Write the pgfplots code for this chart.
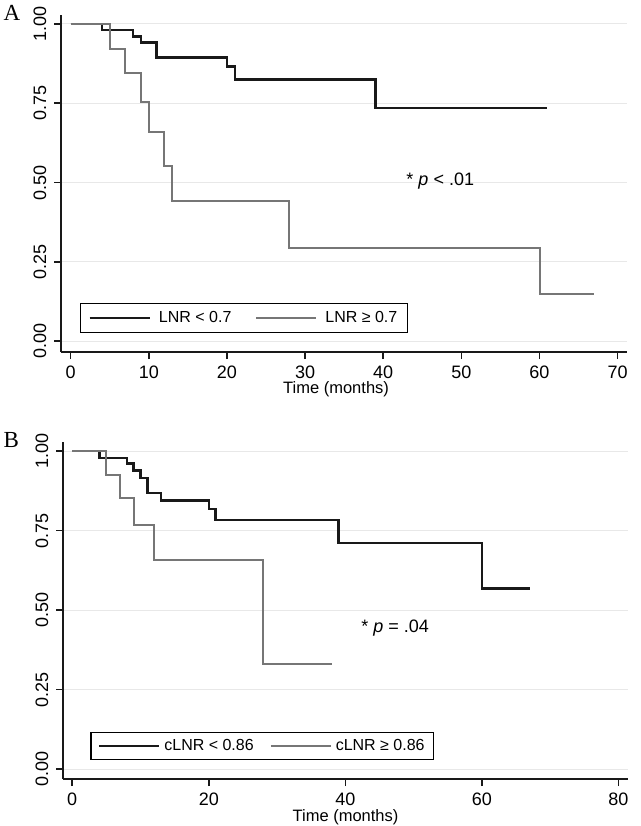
\documentclass[border=0pt]{standalone}
\usepackage{pgfplots}
\pgfplotsset{compat=1.18}
\usepackage{fontspec}
\setmainfont{Liberation Sans}
\newfontfamily\seriffont{Liberation Serif}
\definecolor{kmgray}{RGB}{118,118,118}
\definecolor{kmblack}{RGB}{25,25,25}
\definecolor{gridc}{RGB}{232,232,232}
\pgfplotsset{kmstyle/.style={
  scale only axis,
  axis x line=bottom, axis y line=left,
  axis line style={-, line width=2pt, black!90},
  tick align=outside, major tick length=7pt,
  tick style={line width=1.5pt, black!90},
  ymajorgrids, grid style={gridc, line width=1.2pt},
  ytick={0,0.25,0.5,0.75,1},
  yticklabels={0.00,0.25,0.50,0.75,1.00},
  yticklabel style={rotate=90, anchor=center, yshift=14pt, font=\fontsize{18}{20}\selectfont},
  xticklabel style={yshift=-3pt, font=\fontsize{18}{20}\selectfont},
  /pgf/number format/assume math mode=true,
  xlabel style={font=\fontsize{16.5}{18}\selectfont, anchor=center},
  legend columns=2,
  legend cell align=left,
  legend image code/.code={\draw[#1] (0pt,0pt) -- (60pt,0pt);},
}}
\begin{document}
\begin{tikzpicture}
\path[use as bounding box] (0pt,0pt) rectangle (640pt,-826pt);
% Panel A
\begin{axis}[kmstyle,
  at={(61pt,-352pt)}, anchor=south west,
  width=566pt, height=337pt,
  xmin=-1.24, xmax=71.2, ymin=-0.034, ymax=1.028,
  xtick={0,10,20,30,40,50,60,70},
  xlabel={Time (months)},
  xlabel style={at={(axis description cs:0.486,0)}, yshift=-37pt},
  legend style={at={(rel axis cs:0.033,0.056)}, draw=black, line width=1.5pt,
    font=\fontsize{16}{18}\selectfont, anchor=south west, inner xsep=8pt, inner ysep=6pt,
    /tikz/every odd column/.append style={column sep=6pt},
    /tikz/every even column/.append style={column sep=22pt}},
]
\addplot[const plot, kmblack, line width=2.5pt] coordinates {
 (0,1) (4,0.980) (8,0.960) (9,0.941) (11,0.894) (20,0.866) (21,0.825) (39,0.735) (61,0.735)};
\addlegendentry{LNR < 0.7}
\addplot[const plot, kmgray, line width=2pt] coordinates {
 (0,1) (5,0.920) (7,0.846) (9,0.754) (10,0.660) (12,0.552) (13,0.441) (28,0.295) (60,0.149) (67,0.149)};
\addlegendentry{LNR ≥ 0.7}
\node[font=\fontsize{18}{20}\selectfont] at (axis cs:47.3,0.505) {* \textit{p} < .01};
\end{axis}
\node[font=\seriffont\fontsize{23}{25}\selectfont, anchor=base west] at (0pt,-20.5pt) {A};
% Panel B
\begin{axis}[kmstyle,
  at={(63pt,-779pt)}, anchor=south west,
  width=565pt, height=337pt,
  xmin=-1.35, xmax=81.4, ymin=-0.031, ymax=1.029,
  xtick={0,20,40,60,80},
  xlabel={Time (months)},
  xlabel style={at={(axis description cs:0.5,0)}, yshift=-38pt},
  legend style={at={(rel axis cs:0.048,0.056)}, draw=black, line width=1.5pt,
    font=\fontsize{16}{18}\selectfont, anchor=south west, inner xsep=7pt, inner ysep=5pt,
    /tikz/every odd column/.append style={column sep=2pt},
    /tikz/every even column/.append style={column sep=14pt}},
]
\addplot[const plot, kmblack, line width=2.5pt] coordinates {
 (0,1) (4,0.979) (8,0.961) (9,0.940) (10,0.916) (11,0.869) (13,0.845) (20,0.819) (21,0.784) (39,0.712) (60,0.568) (67,0.568)};
\addlegendentry{cLNR < 0.86}
\addplot[const plot, kmgray, line width=2pt] coordinates {
 (0,1) (5,0.926) (7,0.853) (9,0.768) (12,0.659) (28,0.330) (38,0.330)};
\addlegendentry{cLNR ≥ 0.86}
\node[font=\fontsize{18}{20}\selectfont] at (axis cs:47.3,0.443) {* \textit{p} = .04};
\end{axis}
\node[font=\seriffont\fontsize{23}{25}\selectfont, anchor=base west] at (0pt,-447.7pt) {B};
\end{tikzpicture}
\end{document}
